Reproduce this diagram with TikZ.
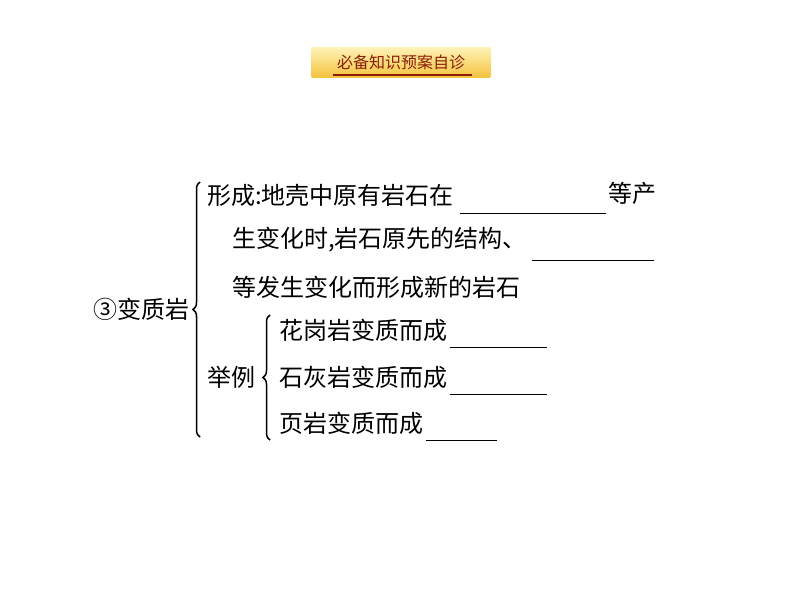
\documentclass[tikz,border=0pt]{standalone}
\usepackage{fontspec}
\newfontfamily\cjk{Noto Sans CJK SC}
\usetikzlibrary{decorations.pathreplacing}
\definecolor{hdtop}{HTML}{FFF3B8}
\definecolor{hdbot}{HTML}{F3C23C}
\definecolor{hdtext}{HTML}{8A1E05}
\tikzset{
  txt/.style={font=\cjk\fontsize{24}{24}\selectfont, anchor=west, inner sep=0pt, text=black},
  blank/.style={line width=1pt, black},
  bigbrace/.style={decorate, decoration={brace, mirror, amplitude=7pt, raise=0pt}, line width=1.5pt},
}
\begin{document}
\begin{tikzpicture}[x=1pt,y=-1pt]
\useasboundingbox (0,0) rectangle (794,596);
% header
\node[minimum width=180pt, minimum height=31pt, rounded corners=2pt, top color=hdtop, bottom color=hdbot, draw=none, inner sep=0pt] (hdr) at (401,62.5) {};
\node[font=\cjk\fontsize{16}{16}\selectfont, text=hdtext, inner sep=0pt] (hdt) at (hdr.center) {必备知识预案自诊};
\draw[hdtext, line width=1.2pt] (333,75) -- (472,75);
% main label
\node[txt] (main) at (93,309) {③变质岩};
\draw[bigbrace] (200,182) coordinate (b1) -- (200,437) coordinate (b2);
% formation lines
\node[txt] (l1) at (207,195) {形成:地壳中原有岩石在};
\draw[blank] (460,213) -- (606,213);
\node[txt] (l1b) at (608,193) {等产};
\node[txt] (l2) at (232,240) {生变化时,岩石原先的结构、};
\draw[blank] (532,260) -- (654,260);
\node[txt] (l3) at (232,287) {等发生变化而形成新的岩石};
% examples
\node[txt] (ex) at (207,377) {举例};
\draw[bigbrace] (270,315) coordinate (s1) -- (270,440) coordinate (s2);
\node[txt] (e1) at (279,330) {花岗岩变质而成};
\draw[blank] (450,347) -- (547,347);
\node[txt] (e2) at (279,377) {石灰岩变质而成};
\draw[blank] (450,394) -- (547,394);
\node[txt] (e3) at (279,423) {页岩变质而成};
\draw[blank] (426,440) -- (497,440);
\end{tikzpicture}
\end{document}
